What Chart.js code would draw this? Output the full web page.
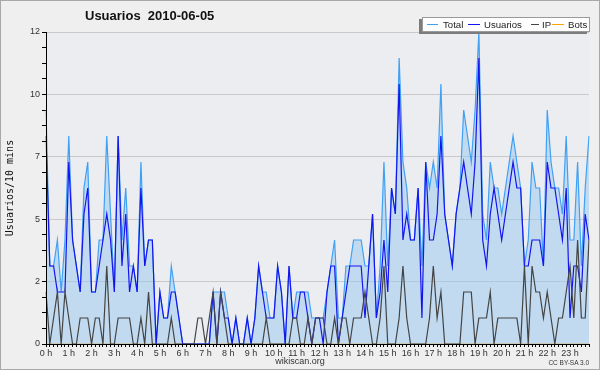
<!DOCTYPE html>
<html>
<head>
<meta charset="utf-8">
<title>Usuarios 2010-06-05</title>
<script src="https://cdn.jsdelivr.net/npm/chart.js"></script>
<style>
  body { margin: 0; background: #efefef; }
  #wrap { position: relative; width: 600px; height: 370px; font-family: "Liberation Sans", Arial, sans-serif; }
  #chart { position: absolute; left: 0; top: 0; }
  #frame { position: absolute; left: 0; top: 0; width: 600px; height: 370px; box-sizing: border-box; border: 1px solid #a8a8a8; pointer-events: none; }
  #title { position: absolute; left: 85px; top: 8px; font-size: 13px; font-weight: bold; white-space: pre; color: #111; }
  #legend { position: absolute; left: 422px; top: 17px; width: 168px; height: 15px; box-sizing: border-box; background: #fff; border: 1px solid #9a9a9a; box-shadow: -3px 2px 0 #7c7c7c; font-size: 9.6px; color: #222; }
  #legend span { position: absolute; top: 1px; line-height: 12px; }
  #legend i { position: absolute; top: 6px; height: 0; border-top: 1px solid; }
  #site { position: absolute; left: 0; width: 600px; top: 356px; text-align: center; font-size: 9px; color: #333; }
  #lic { position: absolute; right: 11px; top: 359px; font-size: 6.5px; color: #333; }
</style>
</head>
<body>
<div id="wrap">
  <canvas id="chart" width="600" height="370"></canvas>
  <div id="title">Usuarios  2010-06-05</div>
  <div id="legend">
    <i style="left:4px;width:11px;border-color:#3fa0f5"></i><span style="left:20px">Total</span>
    <i style="left:45px;width:12px;border-color:#1414f0"></i><span style="left:61px">Usuarios</span>
    <i style="left:108px;width:8px;border-color:#444"></i><span style="left:119px">IP</span>
    <i style="left:129px;width:12px;border-color:#ffa500"></i><span style="left:145px">Bots</span>
  </div>
  <div id="site">wikiscan.org</div>
  <div id="lic">CC BY-SA 3.0</div>
  <div id="frame"></div>
</div>
<script>
// one value per 10 minutes, 144 per day
const hours = ['0 h', '1 h', '2 h', '3 h', '4 h', '5 h', '6 h', '7 h', '8 h', '9 h', '10 h', '11 h',
  '12 h', '13 h', '14 h', '15 h', '16 h', '17 h', '18 h', '19 h', '20 h', '21 h', '22 h', '23 h'];
const minutes = ['00', '10', '20', '30', '40', '50'];

const total = [
  9, 3, 3, 4, 2, 4, 8, 4, 3, 2,
  6, 7, 2, 2, 4, 4, 8, 5, 2, 8,
  4, 6, 3, 3, 2, 7, 3, 4, 4, 0,
  2, 1, 1, 3, 2, 1, 0, 0, 0, 0,
  0, 0, 0, 0, 2, 2, 2, 2, 1, 0,
  1, 0, 0, 1, 0, 1, 3, 2, 2, 1,
  1, 3, 2, 0, 3, 1, 2, 2, 2, 2,
  1, 1, 1, 1, 2, 3, 4, 1, 1, 3,
  3, 4, 4, 4, 3, 3, 5, 1, 3, 7,
  3, 6, 5, 11, 7, 6, 4, 4, 6, 3,
  7, 6, 7, 6, 10, 5, 4, 3, 5, 6,
  9, 8, 7, 9, 12, 5, 4, 7, 6, 6,
  5, 6, 7, 8, 7, 6, 3, 4, 7, 6,
  6, 3, 9, 7, 6, 6, 5, 8, 4, 4,
  7, 3, 6, 8
];
const usuarios = [
  8, 3, 3, 2, 2, 2, 7, 4, 3, 2,
  5, 6, 2, 2, 3, 4, 5, 4, 2, 8,
  3, 5, 2, 3, 2, 6, 3, 4, 4, 0,
  2, 1, 1, 2, 2, 1, 0, 0, 0, 0,
  0, 0, 0, 0, 2, 0, 2, 1, 1, 0,
  1, 0, 0, 1, 0, 1, 3, 2, 1, 1,
  1, 3, 2, 0, 3, 1, 1, 2, 2, 1,
  0, 1, 1, 0, 2, 3, 3, 0, 1, 2,
  3, 3, 3, 3, 1, 3, 5, 1, 2, 4,
  2, 6, 5, 10, 4, 5, 4, 4, 6, 1,
  7, 4, 4, 5, 8, 5, 4, 3, 5, 6,
  7, 6, 5, 7, 11, 4, 3, 5, 6, 5,
  4, 5, 6, 7, 6, 6, 3, 3, 4, 4,
  4, 3, 7, 6, 6, 5, 4, 6, 1, 3,
  3, 2, 5, 4
];
const ip = [
  2, 0, 1, 2, 0, 2, 1, 0, 0, 1,
  1, 1, 0, 1, 1, 0, 3, 0, 0, 1,
  1, 1, 1, 0, 0, 1, 0, 2, 0, 0,
  0, 0, 0, 1, 0, 0, 0, 0, 0, 0,
  1, 1, 0, 1, 2, 0, 2, 1, 0, 0,
  0, 0, 0, 0, 0, 0, 0, 0, 1, 0,
  0, 0, 0, 0, 0, 1, 1, 0, 0, 1,
  0, 1, 1, 1, 0, 0, 1, 0, 1, 1,
  0, 1, 1, 1, 2, 1, 0, 0, 1, 3,
  0, 0, 0, 1, 3, 1, 0, 0, 0, 0,
  0, 1, 3, 1, 2, 0, 0, 0, 0, 0,
  2, 2, 2, 0, 1, 1, 1, 2, 0, 1,
  1, 1, 1, 1, 1, 0, 3, 0, 3, 2,
  2, 1, 2, 1, 0, 1, 1, 2, 3, 1,
  4, 1, 1, 4
];
const bots = total.map(() => 0);

// y axis: short ticks every 0.6, labels/grid on the big ones
const yMax = 12;
const yStep = 0.6;
const yMajor = [0, 2.4, 4.8, 7.2, 9.6, 12];
const yTickLabels = ['0', '2', '5', '7', '10', '12'];

const labels = hours.flatMap(h => minutes.map(m => h.replace(' h', '') + ':' + m));
const majorIndex = v => yMajor.findIndex(m => Math.abs(m - v) < 1e-6);

const plotBg = {
  id: 'plotBg',
  beforeDraw(chart) {
    const { ctx, chartArea: a } = chart;
    ctx.save();
    ctx.fillStyle = '#ecedf0';
    ctx.fillRect(a.left, a.top, a.right - a.left, a.bottom - a.top);
    ctx.restore();
  }
};

const line = (label, data, color, order, extra) => Object.assign({
  label, data, order,
  borderColor: color,
  borderWidth: 1.2,
  pointRadius: 0,
  tension: 0,
  fill: false
}, extra);

new Chart(document.getElementById('chart'), {
  type: 'line',
  data: {
    labels,
    datasets: [
      line('Bots', bots, '#ffa500', 4),
      line('Total', total, '#3fa0f5', 3, { fill: 'origin', backgroundColor: 'rgba(150,200,240,0.5)' }),
      line('Usuarios', usuarios, '#1414f0', 2),
      line('IP', ip, '#444444', 1)
    ]
  },
  options: {
    responsive: false,
    animation: false,
    layout: { padding: { top: 32, right: 11, bottom: 0, left: 0 } },
    plugins: { legend: { display: false }, tooltip: { enabled: false } },
    scales: {
      x: {
        type: 'category',
        offset: false,
        grid: { drawOnChartArea: false, tickLength: 3, tickColor: '#000' },
        border: { color: '#000', z: 1 },
        ticks: {
          autoSkip: false, maxRotation: 0, minRotation: 0, padding: 1,
          color: '#333', font: { family: 'Liberation Sans', size: 9 },
          callback: (v, i) => i % 6 === 0 ? hours[i / 6] : ''
        },
        afterFit: s => { s.height = 26; }
      },
      y: {
        min: 0, max: yMax,
        afterBuildTicks: s => {
          const t = [];
          for (let k = 0; k * yStep <= yMax + 1e-6; k++) t.push({ value: +(k * yStep).toFixed(1) });
          s.ticks = t;
        },
        grid: {
          tickLength: 4,
          tickColor: '#000',
          color: c => (c.tick && majorIndex(c.tick.value) > 0) ? '#c9c9c9' : 'rgba(0,0,0,0)'
        },
        border: { color: '#000', z: 1 },
        ticks: {
          padding: 2, color: '#333', font: { family: 'Liberation Sans', size: 9 },
          callback: v => { const k = majorIndex(v); return k >= 0 ? yTickLabels[k] : ''; }
        },
        title: {
          display: true, text: 'Usuarios/10 mins', color: '#111',
          font: { family: 'DejaVu Sans Mono', size: 10 }, padding: { top: 4, bottom: 0 }
        },
        afterFit: s => { s.width = 46; }
      }
    }
  },
  plugins: [plotBg]
});
</script>
</body>
</html>
